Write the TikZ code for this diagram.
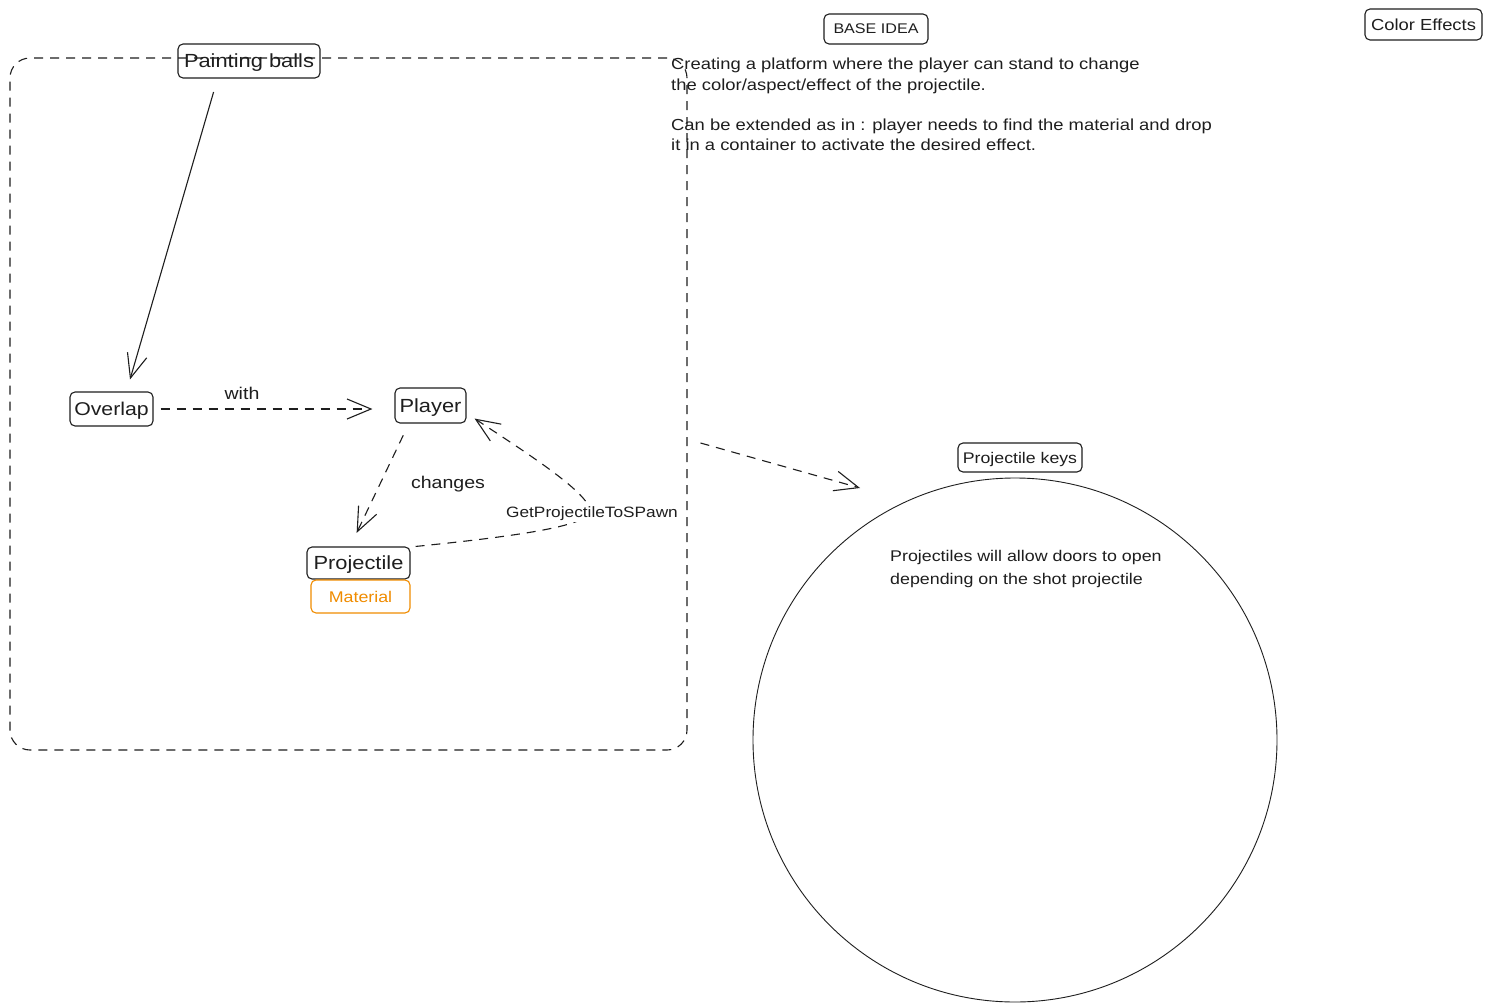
\documentclass[tikz,border=0pt]{standalone}
\usepackage{fontspec}
\setmainfont[FakeStretch=1.15]{Liberation Sans}
\usetikzlibrary{arrows.meta,calc}
\definecolor{ink}{HTML}{1E1E1E}
\definecolor{orng}{HTML}{F08C00}
\tikzset{
  box/.style={draw=ink, line width=1.1pt, rounded corners=5pt, inner sep=0pt, text=ink, text depth=0pt},
  obox/.style={draw=orng, line width=1.1pt, rounded corners=5pt, inner sep=0pt, text=orng, text depth=0pt},
  dsh/.style={dash pattern=on 9pt off 7pt},
  conn/.style={draw=ink, line width=1.1pt, -{Straight Barb[length=24pt,width=20pt,line width=1.1pt]}},
  lbl/.style={text=ink, inner sep=1pt},
  para/.style={text=ink, inner sep=0pt, align=left, anchor=north west}
}
\begin{document}
\begin{tikzpicture}[x=1pt,y=-1pt]
\useasboundingbox (0,0) rectangle (1492,1006);
\fill[white] (0,0) rectangle (1492,1006);
% container
\node[draw=ink, line width=1.1pt, dsh, rounded corners=20pt, minimum width=677pt, minimum height=692pt, inner sep=0pt] (cont) at (348.5,404) {};
% big circle
\node[draw=ink, line width=0.9pt, circle, minimum size=524pt, inner sep=0pt] (circ) at (1015,740) {};
% boxes
\node[box, minimum width=142pt, minimum height=34pt, font=\fontsize{19}{22}\selectfont] (paint) at (249,61) {Painting balls};
\node[box, minimum width=83pt, minimum height=34pt, font=\fontsize{18.5}{22}\selectfont] (overlap) at (111.5,409) {Overlap};
\node[box, minimum width=71pt, minimum height=35pt, font=\fontsize{19}{22}\selectfont] (player) at (430.5,405.5) {Player};
\node[box, minimum width=103pt, minimum height=32pt, font=\fontsize{19}{22}\selectfont] (proj) at (358.5,563) {Projectile};
\node[obox, minimum width=99pt, minimum height=33pt, font=\fontsize{15.5}{18}\selectfont] (mat) at (360.5,596.5) {Material};
\node[box, minimum width=104pt, minimum height=30pt, font=\fontsize{14}{17}\selectfont] (base) at (876,29) {BASE IDEA};
\node[box, minimum width=117pt, minimum height=31pt, font=\fontsize{16}{19}\selectfont] (color) at (1423.5,24.5) {Color Effects};
\node[box, minimum width=124pt, minimum height=29pt, font=\fontsize{15.4}{18}\selectfont] (keys) at (1020,457.5) {Projectile keys};
% texts
\node[para, font=\fontsize{16}{20.3}\selectfont] (idea) at (671,58) {Creating a platform where the player can stand to change\\the color/aspect/effect of the projectile.\\[20.3pt]Can be extended as in : player needs to find the material and drop\\it in a container to activate the desired effect.};
\node[para, font=\fontsize{15.5}{23}\selectfont] (keytext) at (890,550) {Projectiles will allow doors to open\\depending on the shot projectile};
% connectors
\draw[conn, shorten <=14pt] ($(paint.south west)!0.28!(paint.south east)$) -- ($(overlap.north west)!0.72!(overlap.north east)+(0,-12)$);
\draw[conn, dsh, shorten <=7pt, shorten >=22pt] (overlap.east) -- (player.west |- overlap.east);
\node[lbl, font=\fontsize{17}{20}\selectfont] (with) at (242,393) {with};
\draw[conn, dsh, shorten <=13pt, shorten >=15pt] ($(player.south west)!0.2!(player.south east)$) -- ($(proj.north west)!0.42!(proj.north east)$);
\node[lbl, font=\fontsize{17}{20}\selectfont] (chg) at (448,484) {changes};
\draw[conn, dsh] ($(proj.north east)+(5,0)$) .. controls (560,532) and (585,522) .. (590,512) .. controls (592,495) and (530,455) .. ($(player.south east)+(8,-5)$);
\node[lbl, fill=white, font=\fontsize{15}{18}\selectfont] (gps) at (592,514) {GetProjectileToSPawn};
\draw[conn, dsh] ($(cont.east)+(13,39)$) -- ($(circ.center)+(-155,-252)$);
\end{tikzpicture}
\end{document}
